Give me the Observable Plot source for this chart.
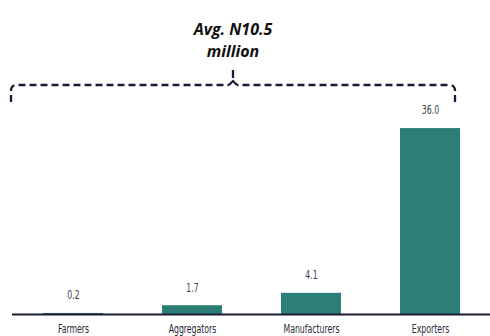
<!DOCTYPE html>
<html>
<head>
<meta charset="utf-8">
<script src="https://cdn.jsdelivr.net/npm/d3@7"></script>
<script src="https://cdn.jsdelivr.net/npm/@observablehq/plot@0.6"></script>
<style>
  html, body { margin: 0; padding: 0; background: #fff; }
  #chart svg { display: block; }
</style>
</head>
<body>
<div id="chart"></div>
<script>
const categories = ["Farmers", "Aggregators", "Manufacturers", "Exporters"];
const values = [0.2, 1.7, 4.1, 36.0];
const valueLabels = ["0.2", "1.7", "4.1", "36.0"];
const annotation = ["Avg. N10.5", "million"];

const data = categories.map((c, i) => ({category: c, value: values[i], label: valueLabels[i]}));

const W = 490, H = 336;
const font = "'DejaVu Sans Condensed', 'Liberation Sans Narrow', Roboto, sans-serif";

const plot = Plot.plot({
  width: W,
  height: H,
  marginLeft: 12,
  marginRight: 0,
  marginTop: 0,
  marginBottom: 22,
  style: {background: "#fff", fontFamily: font, overflow: "visible"},
  x: {domain: categories, paddingInner: 0.5, paddingOuter: 0.25, axis: null},
  y: {domain: [0, 60.8], axis: null},
  marks: [
    Plot.barY(data, {x: "category", y: "value", fill: "#2b7f77"}),
    Plot.ruleY([0], {stroke: "#1b1b38", strokeWidth: 2}),
    Plot.text(data, {x: "category", y: "value", text: "label", dy: -18, fontSize: 12, fill: "#3a3a48", className: "narrow"}),
    Plot.text(data, {x: "category", y: 0, text: "category", dy: 15, fontSize: 12, fill: "#2a2a38", className: "narrow"})
  ]
});

// condense text horizontally to mimic the narrow typeface
d3.select(plot).selectAll("g.narrow text").each(function() {
  const el = d3.select(this);
  const tr = el.attr("transform") || "";
  el.attr("transform", tr + " scale(0.72,1)");
});

const svg = d3.select(plot);
const xs = plot.scale("x");
const bw = xs.bandwidth;
const left = xs.apply("Farmers") - 32;
const right = xs.apply("Exporters") + bw - 5;
const mid = (left + right) / 2;
const yH = 85, yEnd = 102, yTop = 70;
const col = "#1b1b38";
const g = svg.append("g").attr("fill", "none").attr("stroke", col).attr("stroke-width", 2.3).attr("stroke-dasharray", "7,4");
g.append("path").attr("d", `M${left},${yEnd} L${left},${yH + 6} Q${left},${yH} ${left + 6},${yH} L${mid - 4},${yH}`);
g.append("path").attr("d", `M${right},${yEnd} L${right},${yH + 6} Q${right},${yH} ${right - 6},${yH} L${mid + 4},${yH}`);
svg.append("path").attr("fill", "none").attr("stroke", col).attr("stroke-width", 2.1)
  .attr("d", `M${mid - 4},${yH} L${mid},${yH - 4} L${mid + 4},${yH}`);
svg.append("path").attr("fill", "none").attr("stroke", col).attr("stroke-width", 2.3)
  .attr("d", `M${mid},${yTop} L${mid},${yTop + 8}`);

const t = svg.append("text").attr("text-anchor", "middle")
  .attr("font-family", "'Open Sans', sans-serif").attr("font-style", "italic").attr("font-weight", "bold")
  .attr("font-size", 16).attr("fill", "#111");
annotation.forEach((s, i) => t.append("tspan").attr("x", mid).attr("y", 35 + i * 22).text(s));

document.getElementById("chart").appendChild(plot);
</script>
</body>
</html>
